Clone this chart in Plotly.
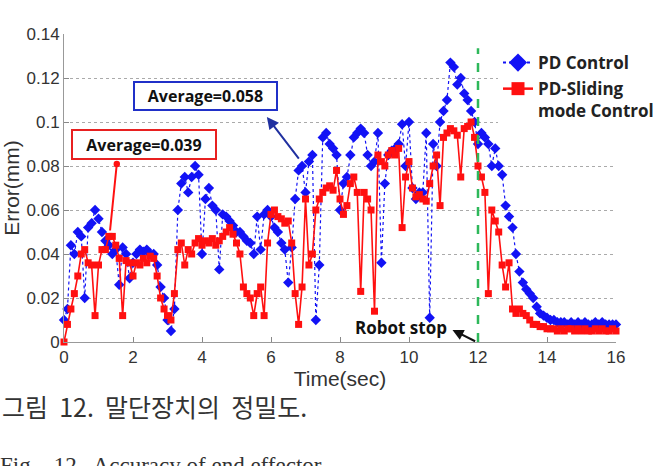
import plotly.graph_objects as go

# sample times (s), one sample every 0.1 s
TIME_S = [i / 10 for i in range(161)]

PD_CONTROL = [
    0.010, 0.015, 0.044, 0.040, 0.050, 0.048, 0.020, 0.052, 0.054, 0.060,
    0.056, 0.050, 0.046, 0.044, 0.040, 0.042, 0.026, 0.043, 0.040, 0.029,
    0.036, 0.040, 0.042, 0.041, 0.042, 0.040, 0.040, 0.035, 0.025, 0.020,
    0.010, 0.005, 0.015, 0.060, 0.072, 0.075, 0.068, 0.075, 0.080, 0.076,
    0.040, 0.065, 0.070, 0.062, 0.060, 0.033, 0.058, 0.057, 0.055, 0.053,
    0.050, 0.050, 0.048, 0.046, 0.045, 0.040, 0.057, 0.042, 0.058, 0.060,
    0.057, 0.052, 0.050, 0.045, 0.042, 0.027, 0.043, 0.065, 0.078, 0.080,
    0.068, 0.082, 0.085, 0.010, 0.035, 0.093, 0.095, 0.090, 0.088, 0.085,
    0.060, 0.072, 0.075, 0.085, 0.093, 0.095, 0.097, 0.095, 0.085, 0.080,
    0.082, 0.095, 0.036, 0.072, 0.085, 0.087, 0.088, 0.090, 0.099, 0.080,
    0.100, 0.070, 0.065, 0.068, 0.068, 0.095, 0.011, 0.090, 0.080, 0.100,
    0.105, 0.110, 0.127, 0.125, 0.117, 0.120, 0.113, 0.110, 0.105, 0.100,
    0.090, 0.095, 0.093, 0.090, 0.080, 0.088, 0.080, 0.076, 0.062, 0.057,
    0.052, 0.040, 0.032, 0.027, 0.024, 0.022, 0.020, 0.016, 0.013, 0.012,
    0.011, 0.010, 0.010, 0.009, 0.009, 0.009, 0.008, 0.009, 0.008, 0.009,
    0.008, 0.009, 0.008, 0.008, 0.009, 0.008, 0.009, 0.008, 0.008, 0.008,
    0.008,
]

PD_SLIDING = [
    0.000, 0.008, 0.015, 0.022, 0.030, 0.040, 0.042, 0.036, 0.035, 0.012,
    0.035, 0.042, 0.042, 0.048, 0.048, 0.044, 0.038, 0.012, 0.037, 0.036,
    0.030, 0.036, 0.035, 0.038, 0.036, 0.039, 0.038, 0.030, 0.020, 0.015,
    0.012, 0.010, 0.022, 0.042, 0.045, 0.035, 0.042, 0.040, 0.045, 0.047,
    0.044, 0.046, 0.045, 0.047, 0.044, 0.046, 0.048, 0.050, 0.052, 0.049,
    0.045, 0.040, 0.025, 0.022, 0.020, 0.012, 0.022, 0.025, 0.012, 0.045,
    0.058, 0.060, 0.057, 0.056, 0.054, 0.055, 0.045, 0.022, 0.008, 0.025,
    0.065, 0.035, 0.040, 0.060, 0.065, 0.068, 0.070, 0.071, 0.069, 0.078,
    0.065, 0.058, 0.062, 0.072, 0.075, 0.068, 0.023, 0.068, 0.065, 0.060,
    0.014, 0.085, 0.082, 0.080, 0.085, 0.087, 0.085, 0.088, 0.052, 0.075,
    0.082, 0.070, 0.066, 0.067, 0.065, 0.064, 0.072, 0.080, 0.085, 0.062,
    0.093, 0.095, 0.097, 0.096, 0.094, 0.075, 0.097, 0.098, 0.100, 0.093,
    0.080, 0.075, 0.068, 0.022, 0.060, 0.055, 0.050, 0.035, 0.025, 0.036,
    0.015, 0.013, 0.015, 0.013, 0.012, 0.010, 0.008, 0.008, 0.007, 0.007,
    0.006, 0.006, 0.006, 0.005, 0.006, 0.005, 0.006, 0.006, 0.005, 0.006,
    0.005, 0.006, 0.005, 0.005, 0.006, 0.005, 0.006, 0.005, 0.005, 0.006,
    0.005,
]

Y_TICKS = [0, 0.02, 0.04, 0.06, 0.08, 0.1, 0.12, 0.14]
Y_TICK_TEXT = ["0", "0.02", "0.04", "0.06", "0.08", "0.1", "0.12", "0.14"]
X_TICKS = [0, 2, 4, 6, 8, 10, 12, 14, 16]

STOP_TIME = 12
AVG_PD = "Average=0.058"
AVG_SMC = "Average=0.039"

BLUE = "#1212f5"
RED = "#ff1010"
BOLD_FONT = "Open Sans"

fig = go.Figure()

fig.add_trace(go.Scatter(
    x=TIME_S, y=PD_CONTROL, mode="lines+markers", showlegend=False,
    line=dict(color=BLUE, width=1.2, dash="dot"),
    marker=dict(symbol="diamond", size=8, color=BLUE),
    cliponaxis=False,
))
fig.add_trace(go.Scatter(
    x=TIME_S, y=PD_SLIDING, mode="lines+markers", showlegend=False,
    line=dict(color=RED, width=1.6),
    marker=dict(symbol="square", size=7, color=RED),
    cliponaxis=False,
))
# legend entries
fig.add_trace(go.Scatter(
    x=[None], y=[None], mode="lines+markers", name="PD Control",
    legendgroup="pd",
    line=dict(color=BLUE, width=2, dash="dot"),
    marker=dict(symbol="diamond", size=14, color=BLUE),
))
fig.add_trace(go.Scatter(
    x=[None], y=[None], mode="lines+markers", name="PD-Sliding<br>mode Control",
    legendgroup="smc",
    line=dict(color=RED, width=2.5),
    marker=dict(symbol="square", size=13, color=RED),
))

# robot stop line
fig.add_shape(type="line", xref="x", yref="y", x0=STOP_TIME, x1=STOP_TIME,
              y0=0, y1=0.1335, line=dict(color="#2db85a", width=2.5, dash="dash"))

# average boxes
fig.add_annotation(x=4.10, y=0.112, xref="x", yref="y", text=AVG_PD,
                   showarrow=False, bordercolor="#2030c8", borderwidth=2,
                   bgcolor="white", width=139, height=24,
                   font=dict(family=BOLD_FONT, size=16, color="#111", weight="bold"))
fig.add_annotation(x=2.32, y=0.090, xref="x", yref="y", text=AVG_SMC,
                   showarrow=False, bordercolor="#e82020", borderwidth=2,
                   bgcolor="white", width=140, height=25,
                   font=dict(family=BOLD_FONT, size=16, color="#111", weight="bold"))
# arrows
fig.add_annotation(x=5.88, y=0.1023, ax=6.84, ay=0.0827, xref="x", yref="y",
                   axref="x", ayref="y", text="", showarrow=True,
                   arrowhead=2, arrowsize=1.2, arrowwidth=2, arrowcolor="#2030a0")
fig.add_annotation(x=1.53, y=0.0809, ax=1.33, ay=0.050, xref="x", yref="y",
                   axref="x", ayref="y", text="", showarrow=True,
                   arrowhead=6, arrowsize=0.8, arrowwidth=2, arrowcolor=RED)
fig.add_annotation(x=11.26, y=0.0055, ax=11.96, ay=0.0, xref="x", yref="y",
                   axref="x", ayref="y", text="", showarrow=True,
                   arrowhead=2, arrowsize=1.1, arrowwidth=2, arrowcolor="#111")
fig.add_annotation(x=9.77, y=0.0068, xref="x", yref="y", text="Robot stop",
                   showarrow=False,
                   font=dict(family=BOLD_FONT, size=17, color="#111", weight="bold"))

# captions
fig.add_annotation(xref="paper", yref="paper", x=-64/552, y=-(406-342)/308,
                   xanchor="left", yanchor="middle", showarrow=False,
                   text="그림  12.  말단장치의  정밀도.",
                   font=dict(family="Noto Sans CJK KR", size=25, color="#333"))
fig.add_annotation(xref="paper", yref="paper", x=-66/552, y=-(451-342)/308,
                   xanchor="left", yanchor="top", showarrow=False,
                   text="Fig.   12.  Accuracy of end effector",
                   font=dict(family="Liberation Serif", size=23, color="#333"))

fig.update_xaxes(range=[0, 16], tickvals=X_TICKS, ticks="inside", ticklen=5,
                 tickcolor="#888", showline=True, linecolor="#999", linewidth=1,
                 showgrid=False, zeroline=False,
                 tickfont=dict(family="Liberation Sans", size=17, color="#333"),
                 title=dict(text="Time(sec)", standoff=0,
                            font=dict(family="Liberation Sans", size=21, color="#333")))
fig.update_yaxes(range=[0, 0.14], tickvals=Y_TICKS, ticktext=Y_TICK_TEXT,
                 ticks="inside", ticklen=5, tickcolor="#888",
                 showline=True, linecolor="#999", linewidth=1,
                 showgrid=True, gridcolor="#aaaaaa", griddash="dot", gridwidth=1,
                 zeroline=False,
                 tickfont=dict(family="Liberation Sans", size=17, color="#333"),
                 title=dict(text="Error(mm)", standoff=2,
                            font=dict(family="Liberation Sans", size=21, color="#333")))

fig.update_layout(
    width=662, height=466,
    margin=dict(l=64, r=46, t=34, b=124, autoexpand=False),
    plot_bgcolor="white", paper_bgcolor="white",
    legend=dict(x=(498-64)/552, y=(342-45)/308, xanchor="left", yanchor="top",
                bgcolor="white", borderwidth=0, valign="top",
                traceorder="grouped", tracegroupgap=1,
                font=dict(family=BOLD_FONT, size=17, color="#222", weight="bold")),
)

fig.write_html("out.html")
